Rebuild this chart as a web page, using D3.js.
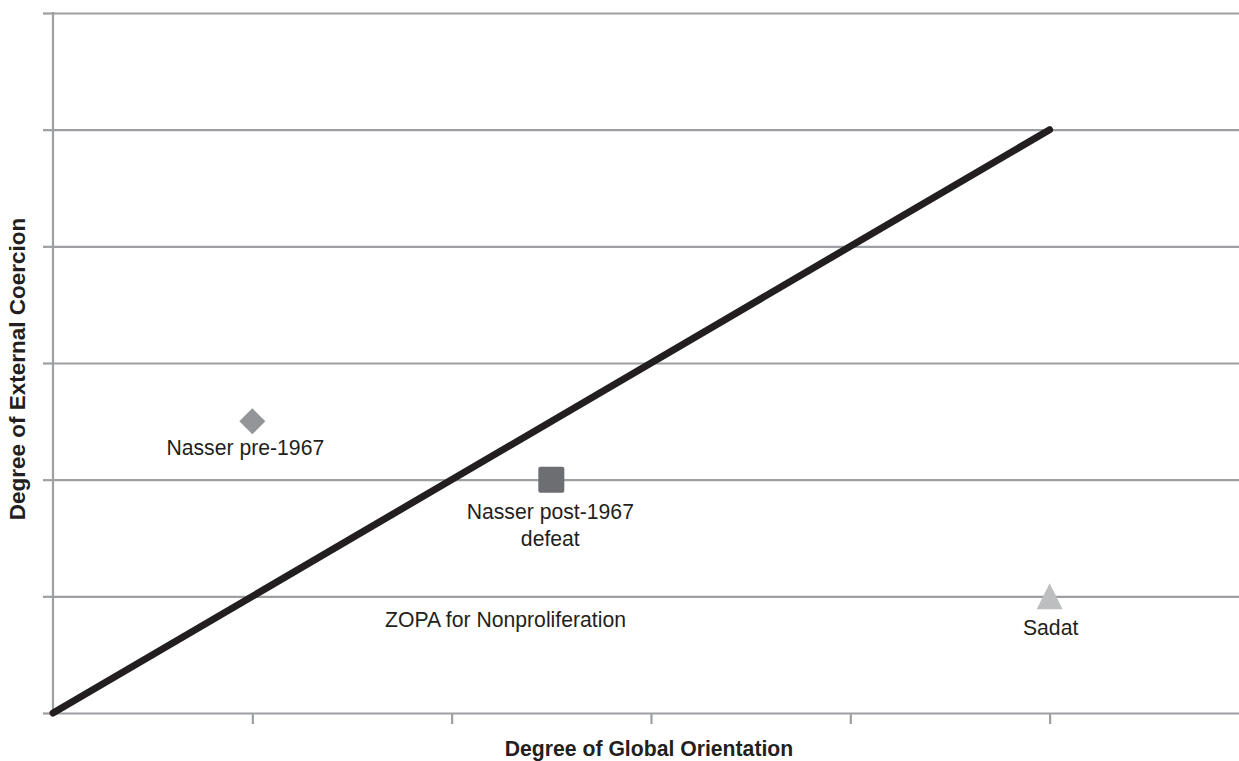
<!DOCTYPE html>
<html>
<head>
<meta charset="utf-8">
<script src="https://cdn.jsdelivr.net/npm/d3@7"></script>
<style>
  html, body { margin: 0; padding: 0; background: #fff; }
  svg { display: block; font-family: "Liberation Sans", Arial, sans-serif; }
</style>
</head>
<body>
<svg id="chart" width="1239" height="761"></svg>
<script>
// Axis ticks (unlabelled, unit steps)
const xTicks = [1, 2, 3, 4, 5];
const yTicks = [0, 1, 2, 3, 4, 5, 6];

// Diagonal boundary line
const boundary = [[0, 0], [5, 5]];

// Leaders, positioned by global orientation (x) and external coercion (y)
const names = ["Nasser pre-1967", "Nasser post-1967\ndefeat", "Sadat"];
const orientation = [1, 2.5, 5];
const coercion = [2.5, 2, 1];
const shapes = ["diamond", "square", "triangle"];
const fills = ["#939598", "#6d6e71", "#bcbec0"];

// Region annotation
const zopaText = "ZOPA for Nonproliferation";
const zopaAt = [2.27, 0.74];

(function draw() {
  const svg = d3.select("#chart");
  const W = 1239;
  const plotLeft = 53, plotTop = 13, plotBottom = 713;

  const x = d3.scaleLinear().domain([0, 5.95]).range([plotLeft, W]);
  const y = d3.scaleLinear().domain([0, 6]).range([plotBottom, plotTop]);

  const gridColor = "#9d9fa2";
  const ink = "#231f20";
  const labelSize = 21.2;

  // Horizontal gridlines with small left stubs
  svg.append("g")
    .attr("transform", `translate(${plotLeft},0)`)
    .call(d3.axisLeft(y).tickValues(yTicks).tickSize(10).tickFormat(""))
    .call(g => g.select(".domain").remove())
    .call(g => g.selectAll(".tick line").attr("stroke", gridColor).attr("stroke-width", 2.2)
      .clone().attr("x1", 0).attr("x2", W - plotLeft));

  // Vertical axis line
  svg.append("line")
    .attr("x1", plotLeft).attr("x2", plotLeft)
    .attr("y1", y(6) - 1).attr("y2", plotBottom)
    .attr("stroke", gridColor).attr("stroke-width", 2.2);

  // Bottom ticks
  svg.append("g")
    .attr("transform", `translate(0,${plotBottom})`)
    .call(d3.axisBottom(x).tickValues(xTicks).tickSize(11).tickFormat(""))
    .call(g => g.select(".domain").remove())
    .call(g => g.selectAll(".tick line").attr("stroke", gridColor).attr("stroke-width", 2.2));

  // Boundary line
  svg.append("path")
    .datum(boundary)
    .attr("d", d3.line().x(d => x(d[0])).y(d => y(d[1])))
    .attr("fill", "none")
    .attr("stroke", ink)
    .attr("stroke-width", 7)
    .attr("stroke-linecap", "round");

  // Markers
  const pts = names.map((n, i) => ({ name: n, x: orientation[i], y: coercion[i], shape: shapes[i], fill: fills[i] }));

  pts.forEach(p => {
    const cx = x(p.x), cy = y(p.y);
    if (p.shape === "square") {
      svg.append("rect")
        .attr("x", cx - 13).attr("y", cy - 13)
        .attr("width", 26).attr("height", 26)
        .attr("rx", 2)
        .attr("fill", p.fill);
    } else if (p.shape === "diamond") {
      svg.append("path")
        .attr("transform", `translate(${cx},${cy})`)
        .attr("d", "M0,-13L13,0L0,13L-13,0Z")
        .attr("fill", p.fill);
    } else {
      svg.append("path")
        .attr("transform", `translate(${cx},${cy})`)
        .attr("d", "M0,-13L13,13L-13,13Z")
        .attr("fill", p.fill);
    }
  });

  // Point labels beneath each marker
  const labelDx = [-7, -1, 1];
  const labelDy = [34, 39, 39];
  pts.forEach((p, i) => {
    const t = svg.append("text")
      .attr("text-anchor", "middle")
      .attr("font-size", labelSize)
      .attr("fill", ink)
      .attr("x", x(p.x) + labelDx[i])
      .attr("y", y(p.y) + labelDy[i]);
    p.name.split("\n").forEach((line, k) => {
      t.append("tspan")
        .attr("x", x(p.x) + labelDx[i])
        .attr("dy", k === 0 ? 0 : 27)
        .text(line);
    });
  });

  // Region annotation
  svg.append("text")
    .attr("x", x(zopaAt[0])).attr("y", y(zopaAt[1]))
    .attr("text-anchor", "middle")
    .attr("font-size", labelSize)
    .attr("fill", ink)
    .text(zopaText);

  // Axis titles
  svg.append("text")
    .attr("x", 649).attr("y", 756)
    .attr("text-anchor", "middle")
    .attr("font-size", 21.2)
    .attr("font-weight", "bold")
    .attr("fill", ink)
    .text("Degree of Global Orientation");

  svg.append("text")
    .attr("transform", "translate(25,369) rotate(-90)")
    .attr("text-anchor", "middle")
    .attr("font-size", 22.5)
    .attr("font-weight", "bold")
    .attr("fill", ink)
    .text("Degree of External Coercion");
})();
</script>
</body>
</html>
